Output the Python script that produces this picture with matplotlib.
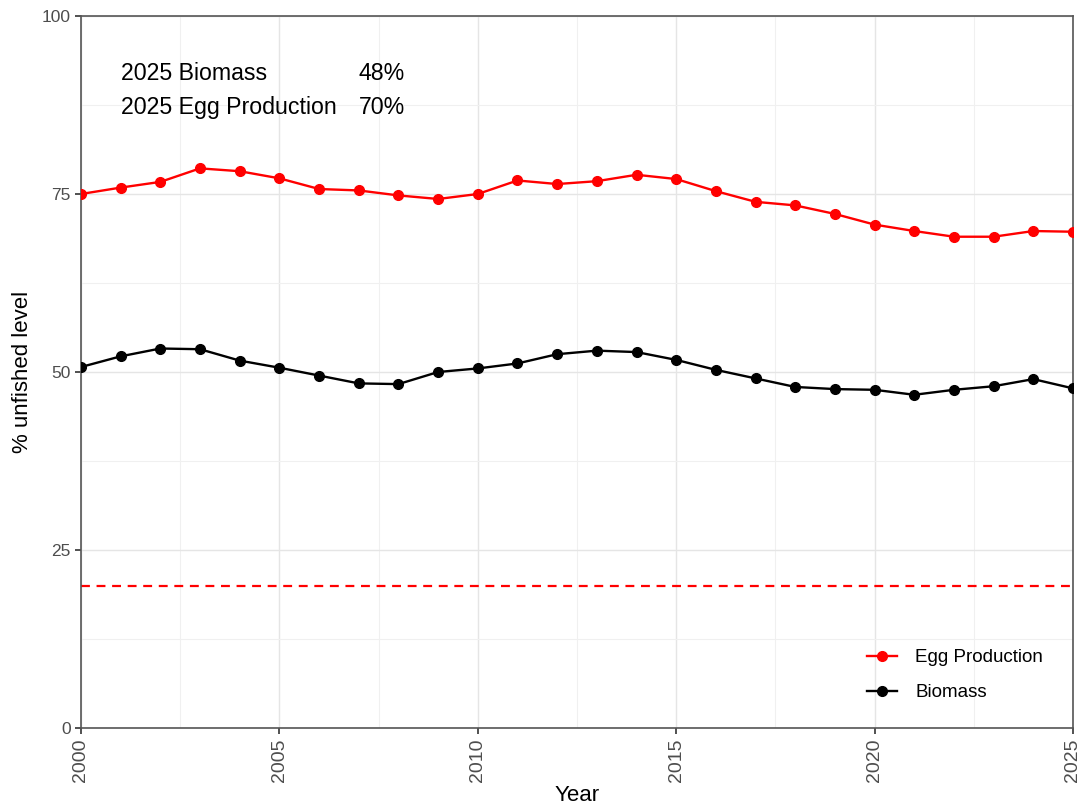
import matplotlib.pyplot as plt
from matplotlib.ticker import MultipleLocator

plt.rcParams['font.family'] = ['Liberation Sans', 'DejaVu Sans']

# Stock status series, % of unfished level
years = list(range(2000, 2026))
egg_production = [75.0, 75.9, 76.7, 78.6, 78.2, 77.2, 75.7, 75.5, 74.8, 74.3,
                  75.0, 76.9, 76.4, 76.8, 77.7, 77.1, 75.4, 73.9, 73.4, 72.2,
                  70.7, 69.8, 69.0, 69.0, 69.8, 69.7]
biomass = [50.7, 52.2, 53.3, 53.2, 51.6, 50.6, 49.5, 48.4, 48.3, 50.0,
           50.5, 51.2, 52.5, 53.0, 52.8, 51.7, 50.3, 49.1, 47.9, 47.6,
           47.5, 46.8, 47.5, 48.0, 49.0, 47.7]
reference_level = 20
summary_labels = ['2025 Biomass', '2025 Egg Production']
summary_values = ['48%', '70%']

fig = plt.figure(figsize=(10.86, 8.08), dpi=100)
ax = fig.add_axes([81 / 1086, 80 / 808, 992 / 1086, 712 / 808])

ax.plot(years, egg_production, color='#FF0000', lw=1.7, marker='o', ms=7,
        label='Egg Production', zorder=3)
ax.plot(years, biomass, color='black', lw=1.7, marker='o', ms=7,
        label='Biomass', zorder=3)
ax.axhline(reference_level, color='#FF0000', lw=1.6, ls=(0, (4, 3)), zorder=2)

# summary text block
for lab, val, y in zip(summary_labels, summary_values, [91.9, 87.2]):
    ax.text(2001, y, lab, fontsize=16.7, va='center', ha='left')
    ax.text(2007, y, val, fontsize=16.7, va='center', ha='left')

ax.set_xlim(2000, 2025)
ax.set_ylim(0, 100)
ax.xaxis.set_major_locator(MultipleLocator(5))
ax.xaxis.set_minor_locator(MultipleLocator(2.5))
ax.yaxis.set_major_locator(MultipleLocator(25))
ax.yaxis.set_minor_locator(MultipleLocator(12.5))
ax.grid(True, which='major', color='#E5E5E5', lw=1.0, zorder=0)
ax.grid(True, which='minor', color='#F0F0F0', lw=0.8, zorder=0)
ax.set_axisbelow(True)

for s in ax.spines.values():
    s.set_color('#555555')
    s.set_linewidth(1.2)
ax.tick_params(which='major', length=4, width=1.2, color='#333333',
               labelcolor='#4D4D4D')
ax.tick_params(which='minor', length=0)
ax.tick_params(axis='x', labelrotation=90, labelsize=14)
ax.tick_params(axis='y', labelsize=12.5)

ax.set_xlabel('Year', fontsize=16, labelpad=2)
ax.set_ylabel('% unfished level', fontsize=16, labelpad=6)

ax.legend(loc='lower right', bbox_to_anchor=(0.987, 0.014), frameon=False,
          fontsize=13.5, handlelength=1.6, labelspacing=0.95, handletextpad=1.0)

fig.savefig('out.png', dpi=100)
